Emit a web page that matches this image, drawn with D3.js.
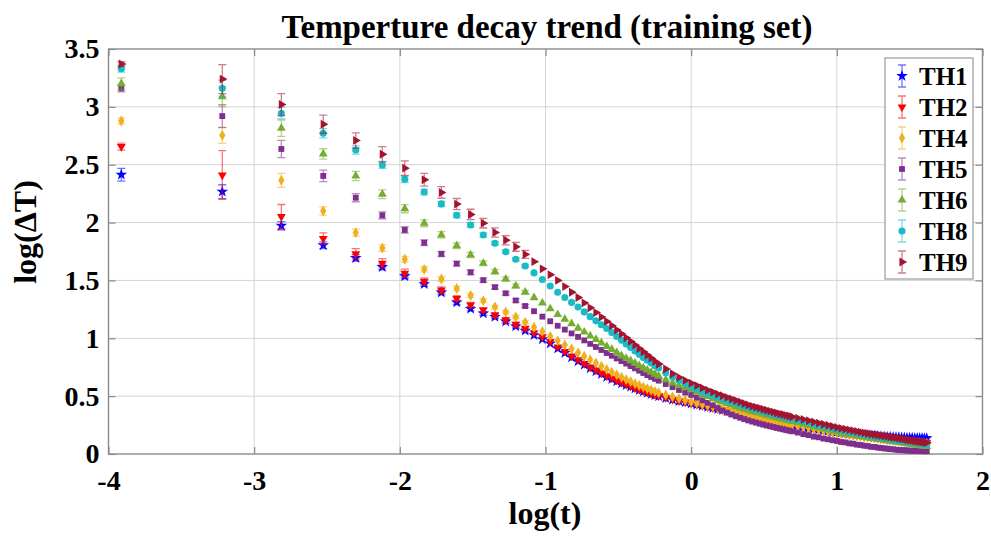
<!DOCTYPE html>
<html>
<head>
<meta charset="utf-8">
<script src="https://cdn.jsdelivr.net/npm/d3@7"></script>
<style>
  html, body { margin: 0; padding: 0; background: #fff; }
  svg { display: block; font-family: "Liberation Serif", "Times New Roman", serif; font-weight: bold; }
</style>
</head>
<body>
<svg id="chart" width="991" height="538"></svg>
<script>
// Sampling times (s); the x axis shows their natural log
const timeSec = [
  0.02,0.04,0.06,0.08,0.10,0.12,0.14,0.16,0.18,0.20,0.22,0.24,0.26,0.28,0.30,0.32,0.34,0.36,0.38,0.40,
  0.42,0.44,0.46,0.48,0.50,0.52,0.54,0.56,0.58,0.60,0.62,0.64,0.66,0.68,0.70,0.72,0.74,0.76,0.78,0.80,
  0.84,0.88,0.92,0.96,1.00,1.04,1.08,1.12,1.16,1.20,1.24,1.28,1.32,1.36,1.40,1.44,1.48,1.52,1.56,1.60,
  1.64,1.68,1.72,1.76,1.80,1.84,1.88,1.92,1.96,2.00,
  2.08,2.16,2.24,2.32,2.40,2.48,2.56,2.64,2.72,2.80,2.88,2.96,3.04,3.12,3.20,3.28,3.36,3.44,3.52,3.60,
  3.68,3.76,3.84,3.92,4.00,4.08,4.16,4.24,4.32,4.40,4.48,4.56,4.64,4.72,4.80,4.88,4.96,5.04
];

const seriesNames = ["TH1", "TH2", "TH4", "TH5", "TH6", "TH8", "TH9"];
const seriesColors = ["#0000ff", "#ff0000", "#edb120", "#7e2f8e", "#77ac30", "#17bcc6", "#a2142f"];

// log(ΔT) per sensor at each sampling time
const th1 = [
  2.414,2.267,1.973,1.804,1.694,1.616,1.536,1.468,1.396,1.31,1.255,1.215,1.185,1.145,1.103,1.066,1.028,0.992,
  0.955,0.912,0.873,0.835,0.802,0.771,0.741,0.715,0.69,0.667,0.647,0.628,0.611,0.595,0.581,0.566,0.552,0.54,0.529,0.518,0.508,0.499,
  0.483,0.469,0.457,0.447,0.437,0.427,0.417,0.407,0.398,0.389,0.38,0.371,0.362,0.354,0.346,0.338,0.33,0.323,0.316,0.309,
  0.302,0.296,0.29,0.284,0.278,0.272,0.267,0.262,0.257,0.252,
  0.243,0.235,0.227,0.22,0.213,0.207,0.201,0.195,0.19,0.185,0.181,0.177,0.173,0.17,0.167,0.164,0.161,0.159,0.156,0.154,
  0.152,0.15,0.148,0.147,0.145,0.144,0.143,0.142,0.141,0.14,0.139,0.139,0.138,0.138,0.137,0.137,0.136,0.136
];
const th2 = [
  2.656,2.411,2.051,1.861,1.729,1.648,1.562,1.492,1.417,1.344,1.288,1.245,1.201,1.16,1.121,1.086,1.048,1.012,
  0.972,0.925,0.886,0.846,0.813,0.782,0.751,0.725,0.699,0.675,0.655,0.636,0.618,0.601,0.587,0.572,0.557,0.545,0.533,0.522,0.512,0.502,
  0.487,0.472,0.459,0.449,0.439,0.428,0.418,0.408,0.399,0.39,0.381,0.372,0.363,0.354,0.346,0.338,0.33,0.322,0.315,0.308,
  0.301,0.294,0.288,0.282,0.276,0.27,0.265,0.26,0.255,0.25,
  0.241,0.232,0.224,0.216,0.209,0.202,0.195,0.188,0.182,0.177,0.172,0.167,0.163,0.159,0.155,0.151,0.148,0.145,0.142,0.139,
  0.136,0.133,0.131,0.128,0.126,0.124,0.121,0.119,0.117,0.115,0.113,0.111,0.109,0.107,0.105,0.103,0.101,0.100
];
const th4 = [
  2.878,2.754,2.365,2.10,1.913,1.78,1.683,1.596,1.512,1.43,1.37,1.325,1.27,1.228,1.184,1.138,
  1.095,1.058,1.017,0.978,0.943,0.909,0.876,0.845,0.815,0.786,0.758,0.731,0.707,0.684,0.663,0.643,0.625,0.608,0.592,0.578,0.565,0.553,0.541,0.530,
  0.511,0.494,0.479,0.465,0.452,0.441,0.43,0.42,0.41,0.401,0.391,0.382,0.373,0.364,0.355,0.347,0.339,0.331,0.323,0.316,
  0.309,0.302,0.295,0.288,0.282,0.276,0.270,0.265,0.260,0.255,
  0.246,0.237,0.228,0.219,0.211,0.203,0.196,0.189,0.182,0.177,0.172,0.167,0.162,0.158,0.154,0.150,0.146,0.142,0.139,0.135,
  0.132,0.128,0.125,0.122,0.119,0.116,0.113,0.111,0.108,0.106,0.103,0.101,0.099,0.097,0.095,0.094,0.092,0.091
];
const th5 = [
  3.16,2.92,2.636,2.403,2.215,2.063,1.936,1.826,1.729,1.645,1.570,1.502,1.442,1.389,1.327,1.279,
  1.234,1.187,1.147,1.108,1.075,1.042,1.012,0.982,0.952,0.925,0.899,0.873,0.849,0.826,0.803,0.781,0.76,0.74,0.72,0.70,0.682,0.665,0.649,0.634,
  0.605,0.578,0.553,0.531,0.511,0.487,0.464,0.442,0.42,0.397,0.376,0.358,0.341,0.326,0.313,0.301,0.290,0.280,0.271,0.262,
  0.254,0.246,0.239,0.232,0.225,0.219,0.213,0.207,0.201,0.196,
  0.185,0.172,0.163,0.150,0.144,0.133,0.127,0.119,0.113,0.104,0.100,0.092,0.089,0.081,0.078,0.072,0.069,0.062,0.061,0.055,
  0.053,0.048,0.047,0.042,0.041,0.037,0.036,0.033,0.033,0.030,0.030,0.028,0.028,0.026,0.026,0.025,0.024,0.024
];
const th6 = [
  3.20,3.088,2.815,2.593,2.403,2.245,2.12,1.994,1.893,1.80,1.72,1.648,1.576,1.512,1.452,1.398,
  1.351,1.305,1.255,1.205,1.166,1.126,1.088,1.054,1.02,0.99,0.96,0.93,0.904,0.877,0.85,0.827,0.806,0.785,0.764,0.744,0.726,0.708,0.69,0.673,
  0.642,0.614,0.59,0.572,0.555,0.535,0.515,0.497,0.479,0.463,0.449,0.436,0.423,0.411,0.399,0.388,0.378,0.368,0.36,0.352,
  0.344,0.336,0.329,0.321,0.314,0.307,0.30,0.294,0.288,0.282,
  0.270,0.259,0.248,0.237,0.227,0.217,0.208,0.199,0.190,0.183,0.177,0.170,0.164,0.158,0.152,0.147,0.142,0.137,0.133,0.128,
  0.124,0.119,0.115,0.111,0.107,0.104,0.100,0.097,0.093,0.090,0.086,0.083,0.080,0.076,0.073,0.070,0.067,0.065
];
const th8 = [
  3.33,3.16,2.945,2.772,2.627,2.498,2.374,2.264,2.161,2.063,1.979,1.893,1.821,1.748,1.683,1.625,
  1.565,1.508,1.452,1.398,1.352,1.31,1.27,1.228,1.187,1.151,1.117,1.085,1.05,1.016,0.983,0.951,0.921,0.89,0.861,0.835,0.81,0.786,0.763,0.743,
  0.703,0.666,0.635,0.607,0.583,0.562,0.541,0.522,0.506,0.49,0.476,0.463,0.45,0.438,0.426,0.414,0.403,0.393,0.384,0.375,
  0.367,0.359,0.351,0.343,0.336,0.329,0.322,0.316,0.309,0.303,
  0.292,0.281,0.270,0.259,0.249,0.240,0.231,0.222,0.214,0.206,0.199,0.192,0.185,0.179,0.173,0.167,0.162,0.157,0.152,0.147,
  0.142,0.138,0.134,0.130,0.126,0.122,0.118,0.114,0.111,0.108,0.104,0.101,0.098,0.095,0.092,0.089,0.087,0.085
];
const th9 = [
  3.37,3.24,3.02,2.85,2.71,2.59,2.47,2.37,2.26,2.16,2.07,1.995,1.915,1.848,1.79,1.725,
  1.662,1.600,1.55,1.50,1.447,1.398,1.352,1.306,1.263,1.222,1.183,1.145,1.108,1.072,1.038,1.004,0.973,0.941,0.911,0.883,0.855,0.828,0.80,0.778,
  0.735,0.694,0.662,0.636,0.612,0.591,0.571,0.552,0.535,0.518,0.503,0.489,0.475,0.462,0.449,0.436,0.424,0.413,0.404,0.396,
  0.387,0.378,0.370,0.362,0.354,0.347,0.341,0.334,0.328,0.322,
  0.310,0.299,0.288,0.277,0.267,0.257,0.248,0.239,0.230,0.222,0.215,0.208,0.202,0.195,0.189,0.183,0.177,0.173,0.168,0.164,
  0.159,0.155,0.151,0.147,0.143,0.139,0.135,0.131,0.127,0.123,0.119,0.116,0.112,0.109,0.106,0.103,0.100,0.098
];

// Half-width of the error bar for the first sampling times (later ones are negligible)
const err1 = [0.055,0.06,0.035,0.03,0.028,0.025,0.022,0.02,0.02,0.018,0.018,0.016,0.015,0.015,0.014,0.013];
const err2 = [0.03,0.21,0.105,0.05,0.045,0.04,0.035,0.03,0.028,0.025,0.022,0.02,0.02,0.018,0.016,0.015];
const err4 = [0.025,0.07,0.06,0.035,0.03,0.028,0.025,0.022,0.02,0.02,0.018,0.016,0.015,0.014,0.013,0.012];
const err5 = [0.03,0.10,0.075,0.05,0.035,0.03,0.028,0.025,0.022,0.02,0.02,0.018,0.016,0.015,0.014,0.013];
const err6 = [0.05,0.085,0.07,0.045,0.04,0.038,0.035,0.03,0.028,0.025,0.022,0.02,0.02,0.018,0.016,0.015];
const err8 = [0.03,0.07,0.05,0.04,0.035,0.03,0.028,0.025,0.022,0.02,0.02,0.018,0.016,0.015,0.014,0.013];
const err9 = [0.02,0.125,0.095,0.078,0.066,0.066,0.063,0.055,0.05,0.048,0.045,0.042,0.04,0.04,0.038,0.035];

const xTicks = [-4, -3, -2, -1, 0, 1, 2];
const yTicks = [0, 0.5, 1, 1.5, 2, 2.5, 3, 3.5];

const seriesValues = [th1, th2, th4, th5, th6, th8, th9];
const seriesErrors = [err1, err2, err4, err5, err6, err8, err9];
// marker shape and rotation for each sensor
const markerTypes = [
  { type: d3.symbolStar, size: 42, rot: 0 },
  { type: d3.symbolTriangle, size: 34, rot: 180 },
  { type: d3.symbolDiamond, size: 34, rot: 0 },
  { type: d3.symbolSquare, size: 34, rot: 0 },
  { type: d3.symbolTriangle, size: 34, rot: 0 },
  { type: d3.symbolCircle, size: 40, rot: 0 },
  { type: d3.symbolTriangle, size: 34, rot: 90 }
];

const series = seriesNames.map((name, i) => ({
  name,
  color: seriesColors[i],
  marker: markerTypes[i],
  points: timeSec.map((t, j) => ({ x: Math.log(t), y: seriesValues[i][j], e: seriesErrors[i][j] }))
}));

const svg = d3.select("#chart");
const W = 991, H = 538;
const plot = { left: 108.5, right: 982.5, top: 49, bottom: 454 };

const x = d3.scaleLinear().domain([-4, 2]).range([plot.left, plot.right]);
const y = d3.scaleLinear().domain([0, 3.5]).range([plot.bottom, plot.top]);

svg.append("rect").attr("width", W).attr("height", H).attr("fill", "#fff");

// grid
const grid = svg.append("g").attr("stroke", "#d4d4d4").attr("stroke-width", 1);
grid.selectAll("line.gx").data(xTicks.slice(1, -1)).join("line")
  .attr("x1", d => x(d)).attr("x2", d => x(d))
  .attr("y1", plot.top).attr("y2", plot.bottom);
grid.selectAll("line.gy").data(yTicks.slice(1, -1)).join("line")
  .attr("x1", plot.left).attr("x2", plot.right)
  .attr("y1", d => y(d)).attr("y2", d => y(d));

// axes with inward ticks; plain hyphen for negative labels
const axisColor = "#8a8a8a";
const tickLabel = d => String(d);
function styleAxis(g) {
  g.select(".domain").remove();
  g.selectAll(".tick line").attr("stroke", axisColor).attr("stroke-width", 1.2);
  g.selectAll(".tick text").attr("fill", "#000").attr("font-size", 28)
    .attr("font-family", "'Liberation Serif','Times New Roman',serif").attr("font-weight", "bold");
}
svg.append("g").attr("transform", `translate(0,${plot.bottom})`)
  .call(d3.axisBottom(x).tickValues(xTicks).tickFormat(tickLabel).tickSizeInner(-7).tickSizeOuter(0).tickPadding(16))
  .call(styleAxis);
svg.append("g").attr("transform", `translate(${plot.left},0)`)
  .call(d3.axisLeft(y).tickValues(yTicks).tickFormat(tickLabel).tickSizeInner(-7).tickSizeOuter(0).tickPadding(9))
  .call(styleAxis);
svg.append("g").attr("transform", `translate(0,${plot.top})`)
  .call(d3.axisTop(x).tickValues(xTicks).tickFormat("").tickSizeInner(-7).tickSizeOuter(0))
  .call(styleAxis);
svg.append("g").attr("transform", `translate(${plot.right},0)`)
  .call(d3.axisRight(y).tickValues(yTicks).tickFormat("").tickSizeInner(-7).tickSizeOuter(0))
  .call(styleAxis);

svg.append("rect")
  .attr("x", plot.left).attr("y", plot.top)
  .attr("width", plot.right - plot.left).attr("height", plot.bottom - plot.top)
  .attr("fill", "none").attr("stroke", axisColor).attr("stroke-width", 1.4);

// data: error bars then markers, series drawn in legend order
const capHalf = 4;
series.forEach(s => {
  const g = svg.append("g");
  const withErr = s.points.filter(p => p.e !== undefined);
  const eb = g.append("g").attr("stroke", s.color).attr("stroke-opacity", 0.55).attr("stroke-width", 1.3).attr("fill", "none");
  eb.selectAll("path").data(withErr).join("path")
    .attr("d", p => {
      const cx = x(p.x), y0 = y(p.y - p.e), y1 = y(p.y + p.e);
      return `M${cx},${y0}V${y1}M${cx - capHalf},${y0}H${cx + capHalf}M${cx - capHalf},${y1}H${cx + capHalf}`;
    });
  const sym = d3.symbol().type(s.marker.type).size(s.marker.size);
  g.append("g").selectAll("path").data(s.points).join("path")
    .attr("d", sym)
    .attr("transform", p => `translate(${x(p.x)},${y(p.y)}) rotate(${s.marker.rot})`)
    .attr("fill", s.color);
});

// legend
const lg = svg.append("g");
lg.append("rect").attr("x", 885).attr("y", 58).attr("width", 88).attr("height", 221)
  .attr("fill", "#fff").attr("stroke", "#9a9a9a").attr("stroke-width", 1.2);
series.forEach((s, i) => {
  const cy = 76 + i * 31, cx = 902;
  const item = lg.append("g");
  item.append("path")
    .attr("d", `M${cx},${cy - 11}V${cy + 11}M${cx - 4},${cy - 11}H${cx + 4}M${cx - 4},${cy + 11}H${cx + 4}`)
    .attr("stroke", s.color).attr("stroke-opacity", 0.55).attr("stroke-width", 1.3).attr("fill", "none");
  item.append("path")
    .attr("d", d3.symbol().type(s.marker.type).size(s.marker.size)())
    .attr("transform", `translate(${cx},${cy}) rotate(${s.marker.rot})`)
    .attr("fill", s.color);
  item.append("text").attr("x", 919).attr("y", cy).attr("dy", "0.35em")
    .attr("font-size", 25).attr("fill", "#000").text(s.name);
});

// titles
svg.append("text").attr("x", 547).attr("y", 38).attr("text-anchor", "middle")
  .attr("font-size", 33).attr("fill", "#000").text("Temperture decay trend (training set)");
svg.append("text").attr("x", 545).attr("y", 524).attr("text-anchor", "middle")
  .attr("font-size", 32).attr("fill", "#000").text("log(t)");
svg.append("text").attr("transform", "translate(36,232) rotate(-90)").attr("text-anchor", "middle")
  .attr("font-size", 32).attr("fill", "#000").text("log(ΔT)");
</script>
</body>
</html>
